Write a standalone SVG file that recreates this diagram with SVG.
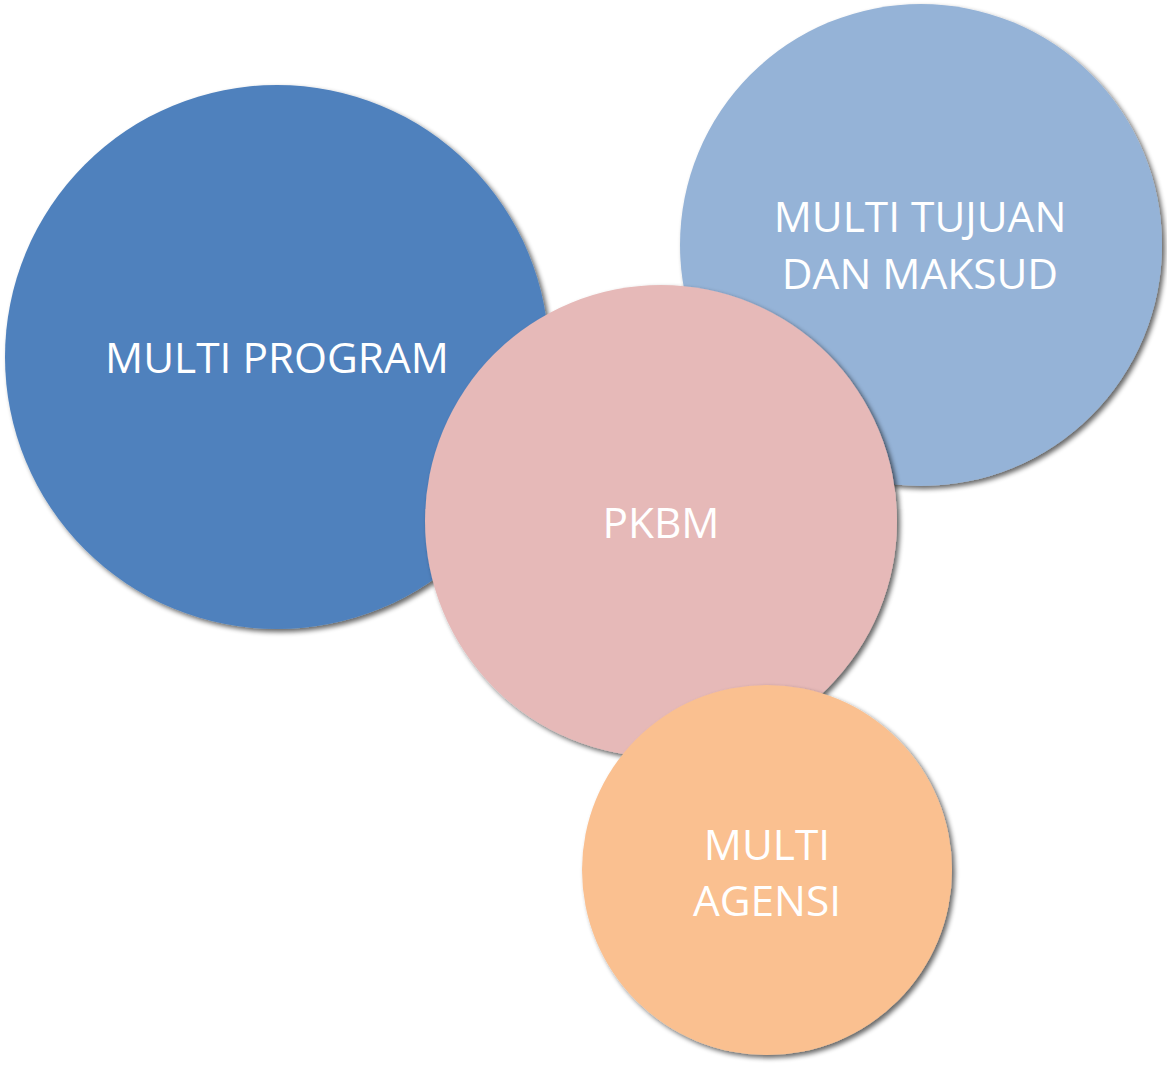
<svg xmlns="http://www.w3.org/2000/svg" width="1167" height="1067" viewBox="0 0 1167 1067">
<defs>
<filter id="sh" x="-10%" y="-10%" width="120%" height="120%">
<feGaussianBlur in="SourceAlpha" stdDeviation="2.5"/>
<feOffset dx="3" dy="3" result="b"/>
<feComponentTransfer><feFuncA type="linear" slope="0.6"/></feComponentTransfer>
<feMerge><feMergeNode/><feMergeNode in="SourceGraphic"/></feMerge>
</filter>
<style>
text{font-family:"Open Sans","Liberation Sans",sans-serif;font-size:42.4px;fill:#ffffff;text-anchor:middle}
circle{filter:url(#sh)}
</style>
</defs>
<rect width="1167" height="1067" fill="#ffffff"/>
<g id="node-multi-program">
<circle cx="277" cy="357" r="272" fill="#4F81BD"/>
<text x="277" y="373">MULTI PROGRAM</text>
</g>
<g id="node-multi-tujuan">
<circle cx="921" cy="245" r="241" fill="#95B3D7"/>
<text x="920" y="232">MULTI TUJUAN</text>
<text x="920" y="289">DAN MAKSUD</text>
</g>
<g id="node-pkbm">
<circle cx="661" cy="521" r="236" fill="#E6B9B8"/>
<text x="661" y="538">PKBM</text>
</g>
<g id="node-multi-agensi">
<circle cx="767" cy="870" r="185" fill="#FAC090"/>
<text x="767" y="860">MULTI</text>
<text x="767" y="916">AGENSI</text>
</g>
<g id="connectors"/>
</svg>
